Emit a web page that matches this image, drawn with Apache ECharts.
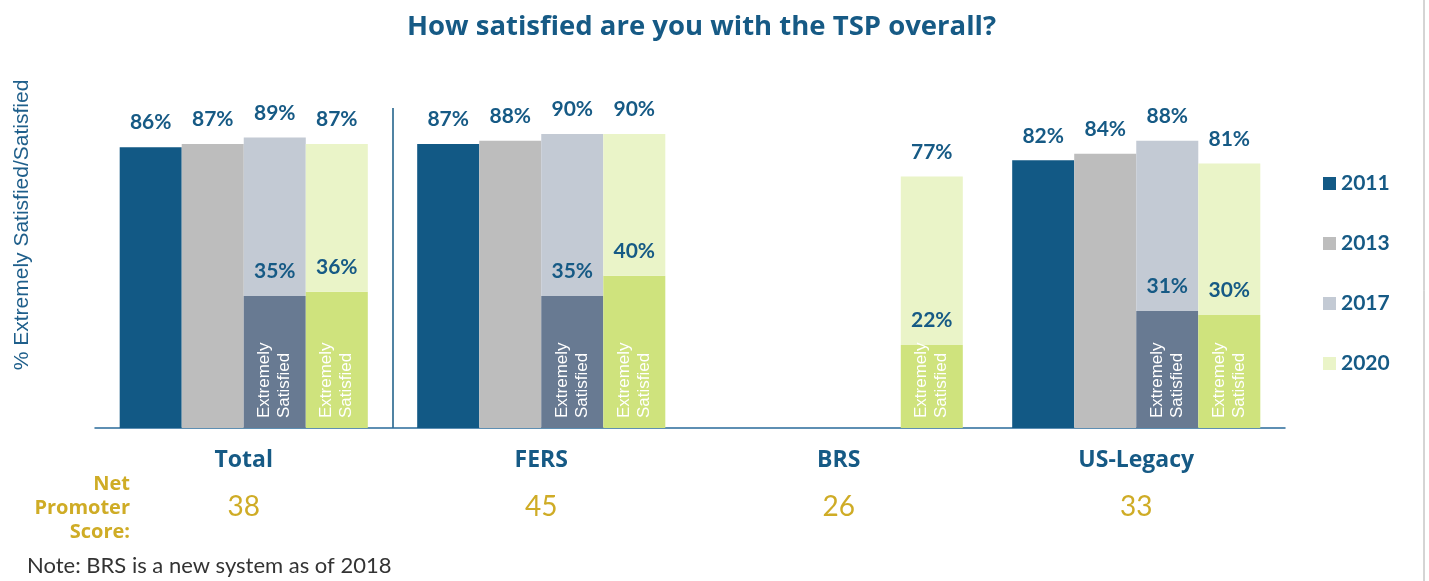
<!DOCTYPE html>
<html>
<head>
<meta charset="utf-8">
<script src="https://cdn.jsdelivr.net/npm/echarts@6/dist/echarts.min.js"></script>
<style>
  html, body { margin: 0; padding: 0; background: #fff; }
  #chart { width: 1429px; height: 581px; }
</style>
</head>
<body>
<div id="chart"></div>
<script>
const categories = ["Total", "FERS", "BRS", "US-Legacy"];
const years = ["2011", "2013", "2017", "2020"];

// overall % extremely satisfied / satisfied
const sat2011 = [86, 87, null, 82];
const sat2013 = [87, 88, null, 84];
const sat2017 = [89, 90, null, 88];
const sat2020 = [87, 90, 77, 81];

// extremely satisfied: labels as printed, heights as drawn in the picture
const es2017Label = [35, 35, null, 31];
const es2020Label = [36, 40, 22, 30];
const es2017Height = [40.4, 40.4, null, 35.8];
const es2020Height = [41.7, 46.6, 25.4, 34.6];

const npsScores = ["38", "45", "26", "33"];

const BLUE = "#165a85";
const GOLD = "#cfac26";
const FONT = "Lato";
const HEAD = "Open Sans";
const NONE = "rgba(0,0,0,0)";

const chart = echarts.init(document.getElementById("chart"));

const topLabel = (vals) => ({
  show: true,
  position: "top",
  distance: 14,
  color: BLUE,
  fontFamily: FONT,
  fontWeight: "bold",
  fontSize: 21,
  formatter: p => vals[p.dataIndex] == null ? "" : vals[p.dataIndex] + "%"
});

const rest = (total, es) => total.map((v, i) => v == null ? null : +(v - (es[i] || 0)).toFixed(1));

const esInside = {
  show: true,
  position: "insideBottom",
  rotate: 90,
  align: "left",
  verticalAlign: "middle",
  distance: 10,
  color: "#fff",
  fontFamily: "Liberation Sans",
  fontSize: 17,
  lineHeight: 20,
  formatter: "Extremely\nSatisfied"
};

const option = {
  animation: false,
  title: {
    text: "How satisfied are you with the TSP overall?",
    left: 402,
    top: 8,
    textStyle: { color: BLUE, fontFamily: HEAD, fontWeight: "bold", fontSize: 27.5 }
  },
  legend: {
    data: years,
    orient: "vertical",
    left: 1318,
    top: 168,
    itemWidth: 13,
    itemHeight: 13,
    itemGap: 39,
    icon: "rect",
    textStyle: { color: BLUE, fontFamily: FONT, fontWeight: "bold", fontSize: 21 },
    selectedMode: false
  },
  grid: { left: 95, right: 144, top: 108, bottom: 153 },
  xAxis: [
    {
      type: "category",
      data: categories,
      axisLine: { lineStyle: { color: "#2a6b9a", width: 1.5 } },
      axisTick: { show: false },
      splitLine: {
        show: true,
        interval: 0,
        // only the boundary between Total and FERS is drawn
        lineStyle: { color: [NONE, BLUE, NONE, NONE, NONE], width: 1.5 }
      },
      axisLabel: {
        margin: 21,
        color: BLUE,
        fontFamily: HEAD,
        fontWeight: "bold",
        fontSize: 23
      }
    },
    {
      type: "category",
      data: npsScores,
      position: "bottom",
      offset: 57,
      axisLine: { show: false },
      axisTick: { show: false },
      axisLabel: { margin: 8, color: GOLD, fontFamily: FONT, fontSize: 28 }
    }
  ],
  yAxis: {
    type: "value",
    min: 0,
    max: 98,
    axisLabel: { show: false },
    axisLine: { show: false },
    axisTick: { show: false },
    splitLine: { show: false }
  },
  series: [
    {
      name: "2011", type: "bar", data: sat2011, barGap: 0, barCategoryGap: "16.6%",
      itemStyle: { color: "#125985" }, label: topLabel(sat2011)
    },
    {
      name: "2013", type: "bar", data: sat2013,
      itemStyle: { color: "#bdbdbd" }, label: topLabel(sat2013)
    },
    {
      name: "ES 2017", type: "bar", stack: "s2017", data: es2017Height,
      itemStyle: { color: "#687a92" }, label: esInside
    },
    {
      name: "ES 2017 pct", type: "bar", stack: "s2017",
      data: es2017Label.map(v => v == null ? null : 0),
      label: topLabel(es2017Label)
    },
    {
      name: "2017", type: "bar", stack: "s2017", data: rest(sat2017, es2017Height),
      itemStyle: { color: "#c3cad4" }, label: topLabel(sat2017)
    },
    {
      name: "ES 2020", type: "bar", stack: "s2020", data: es2020Height,
      itemStyle: { color: "#cfe37d" }, label: esInside
    },
    {
      name: "ES 2020 pct", type: "bar", stack: "s2020",
      data: es2020Label.map(v => v == null ? null : 0),
      label: topLabel(es2020Label)
    },
    {
      name: "2020", type: "bar", stack: "s2020", data: rest(sat2020, es2020Height),
      itemStyle: { color: "#eaf4c8" }, label: topLabel(sat2020)
    }
  ],
  graphic: [
    {
      type: "text",
      x: 22, y: 225,
      rotation: Math.PI / 2,
      style: {
        text: "% Extremely Satisfied/Satisfied",
        fill: "#1f5f8b",
        font: "21px 'Liberation Sans'",
        align: "center",
        verticalAlign: "middle"
      }
    },
    {
      type: "text",
      x: 130, y: 508,
      style: {
        text: "Net\nPromoter\nScore:",
        fill: GOLD,
        font: "bold 20px 'Open Sans'",
        lineHeight: 24,
        align: "right",
        verticalAlign: "middle"
      }
    },
    {
      type: "text",
      x: 27, y: 566,
      style: {
        text: "Note: BRS is a new system as of 2018",
        fill: "#333",
        font: "22px Lato",
        align: "left",
        verticalAlign: "middle"
      }
    },
    {
      type: "line",
      shape: { x1: 1424, y1: 0, x2: 1424, y2: 581 },
      style: { stroke: "#aaa", lineWidth: 1 }
    }
  ]
};

chart.setOption(option);
</script>
</body>
</html>
